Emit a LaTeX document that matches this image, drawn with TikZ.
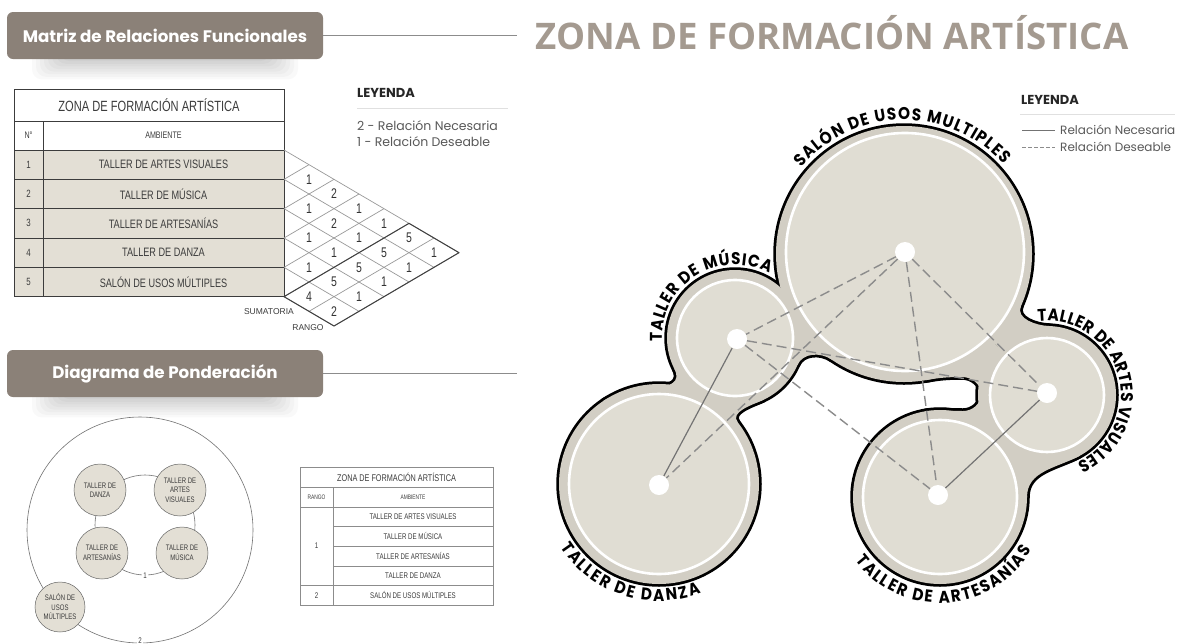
\documentclass[tikz,border=0pt]{standalone}
\usepackage{fontspec}
\setmainfont{Poppins}
\newfontfamily\titlefont{Open Sans}
\newfontfamily\arcfont{Poppins}[FakeStretch=0.9]
\newfontfamily\cadfont{Liberation Sans}[FakeStretch=0.75]
\newfontfamily\cadwide{Liberation Sans}
\usetikzlibrary{decorations.text}

\definecolor{taupe}{RGB}{139,129,120}
\definecolor{titlegray}{RGB}{164,154,144}
\definecolor{rowbeige}{RGB}{227,223,213}
\definecolor{blobdark}{RGB}{210,206,196}
\definecolor{blobinner}{RGB}{224,221,211}
\definecolor{cadgray}{RGB}{60,60,60}

\newcommand{\arclabelfont}{\arcfont\bfseries\fontsize{17}{17}\selectfont}

\tikzset{
  header/.style={rectangle,rounded corners=6pt,fill=taupe,text=white,minimum width=316pt,minimum height=47pt,font=\bfseries\fontsize{16.7}{19}\selectfont},
  rule/.style={draw=black!45,line width=0.8pt},
  cell/.style={font=\cadfont\fontsize{12.2}{14}\selectfont,text=cadgray,inner sep=0pt},
  smallcell/.style={font=\cadfont\fontsize{8.2}{10}\selectfont,text=cadgray,inner sep=0pt},
  grid/.style={draw=black!40,line width=0.7pt},
  gridbold/.style={draw=black!75,line width=1pt,line join=round},
  cellnum/.style={font=\cadfont\fontsize{14}{14}\selectfont,text=black!80,inner sep=0pt},
  legendtxt/.style={font=\fontsize{12.5}{14}\selectfont,text=black!65,anchor=west,inner sep=0pt},
  legendhead/.style={font=\bfseries\fontsize{13}{14}\selectfont,text=black!85,anchor=west,inner sep=0pt},
  pond/.style={circle,draw=black!60,line width=0.5pt,fill=rowbeige,minimum size=52pt,inner sep=0pt,align=center,font=\cadfont\fontsize{8}{9.5}\selectfont,text=cadgray},
  dot/.style={circle,fill=white,minimum size=20pt,inner sep=0pt},
  necesaria/.style={draw=black!55,line width=1.2pt},
  deseable/.style={draw=black!45,line width=1.4pt,dash pattern=on 10pt off 5pt},
  ring/.style={fill=blobinner,draw=white,line width=2.6pt},
  arclabel/.style={font=\arclabelfont,decorate,decoration={text along path,text={|\arclabelfont|#1},text align=fit to path}}
}

\newcommand{\blobshapes}[1]{%
  \path[#1] (cS) circle[radius=128pt];
  \path[#1] (cM) circle[radius=68pt];
  \path[#1] (cV) circle[radius=69pt];
  \path[#1] (cA) circle[radius=87pt];
  \path[#1] (cD) circle[radius=100pt];
  % cuello danza - musica
  \path[#1] (cD) -- ([shift={(124:100)}]cD) to[out=34,in=297] ([shift={(207:68)}]cM) -- (cM)
    -- ([shift={(295:68)}]cM) to[out=205,in=128] ([shift={(38:100)}]cD) -- cycle;
  % cuello musica - salon
  \path[#1] (cM) -- ([shift={(-23.5:68)}]cM) to[out=66.5,in=145.6] ([shift={(235.6:128)}]cS) -- (cS) -- cycle;
  % cuello salon - artes visuales
  \path[#1] (cS) -- ([shift={(-24:128)}]cS) to[out=246,in=178] ([shift={(88:69)}]cV) -- (cV) -- cycle;
  % cuello artes visuales - artesanias
  \path[#1] (cV) -- ([shift={(298:69)}]cV) to[out=208,in=90] ([shift={(0:87)}]cA) -- (cA) -- cycle;
  % union central con entrante
  \path[#1] (cS) -- ([shift={(-80:128)}]cS) to[out=10,in=180] (962,-377) to[out=0,in=90] (981,-394)
    to[out=-90,in=0] (963,-411) to[out=180,in=5] ([shift={(100:87)}]cA) -- (cA) -- (cV) -- cycle;
}

\begin{document}
\begin{tikzpicture}[x=1pt,y=1pt]
\useasboundingbox (0,0) rectangle (1180,-643);
\fill[white] (0,0) rectangle (1180,-643);

% ---------- matriz de relaciones ----------
\foreach \k in {1,...,10}
  \fill[black,opacity=0.022,rounded corners=10pt] ({28+4*\k},-48) rectangle ({302-4*\k},{-82+2.6*\k});
\node[header] (hmatriz) at (165,-35.5) {Matriz de Relaciones Funcionales};
\coordinate (finA) at (517,-35.5);
\draw[rule] (hmatriz.east) -- (finA);

\fill[rowbeige] (14,-150) rectangle (284,-296.667);
\draw[cadgray,line width=0.9pt] (14,-89) rectangle (284,-296.667);
\draw[cadgray,line width=0.8pt] (14,-121) -- (284,-121) (14,-150) -- (284,-150) (43,-121) -- (43,-296.667);
\foreach \k in {1,...,4}
  \draw[cadgray,line width=0.8pt] (14,{-150-29.333*\k}) -- (284,{-150-29.333*\k});
\node[cell,font=\cadfont\fontsize{14.8}{16}\selectfont] (tzona) at (149,-105) {ZONA DE FORMACIÓN ARTÍSTICA};
\node[cell,font=\cadfont\fontsize{9.5}{11}\selectfont] (tnum) at (28.5,-135.5) {N°};
\node[cell,font=\cadfont\fontsize{9.5}{11}\selectfont] (tamb) at (163.5,-135.5) {AMBIENTE};
\foreach \n/\amb in {1/TALLER DE ARTES VISUALES,2/TALLER DE MÚSICA,3/TALLER DE ARTESANÍAS,4/TALLER DE DANZA,5/SALÓN DE USOS MÚLTIPLES}{
  \node[cell,font=\cadfont\fontsize{10.5}{12}\selectfont] (num\n) at (28.5,{-135.333-29.333*\n}) {\n};
  \node[cell] (amb\n) at (163.5,{-135.333-29.333*\n}) {\amb};
}

% rombos
\foreach \k in {0,...,5}
  \draw[grid] (284,{-150-29.333*\k}) -- ++({25*(7-\k)},{-14.667*(7-\k)});
\foreach \k in {1,...,5}
  \draw[grid] (284,{-150-29.333*\k}) -- ++({25*\k},{14.667*\k});
\foreach \k in {6,7}
  \draw[grid] ({284+25*(\k-5)},{-296.667-14.667*(\k-5)}) -- ({284+25*\k},{-150-14.667*\k});
\draw[gridbold] (284,-296.667) -- (334,-326) -- (459,-252.667) -- (409,-223.333) -- cycle;
\foreach \i/\j/\v in {1/2/1,1/3/2,1/4/1,1/5/1,2/3/1,2/4/2,2/5/1,3/4/1,3/5/1,4/5/1,
                      1/6/5,2/6/5,3/6/5,4/6/5,5/6/4,1/7/1,2/7/1,3/7/1,4/7/1,5/7/2}
  \node[cellnum] (m\i\j) at ({284+25*(\j-\i)},{-150-14.667*(\i+\j-1)}) {\v};
\node[smallcell,font=\cadwide\fontsize{8.5}{10}\selectfont,anchor=east] (lsuma) at (294,-312) {SUMATORIA};
\node[smallcell,font=\cadwide\fontsize{8.5}{10}\selectfont] (lrango) at (308,-328) {RANGO};

% leyenda izquierda
\node[legendhead] (leyA) at (357,-93) {LEYENDA};
\draw[black!12,line width=0.8pt] (357,-108) -- (508,-108);
\node[legendtxt] (ley2) at (357,-126) {2 - Relación Necesaria};
\node[legendtxt] (ley1) at (357,-142) {1 - Relación Deseable};

% ---------- diagrama de ponderacion ----------
\foreach \k in {1,...,10}
  \fill[black,opacity=0.022,rounded corners=10pt] ({28+4*\k},-386) rectangle ({302-4*\k},{-420+2.6*\k});
\node[header] (hpond) at (165,-373.5) {Diagrama de Ponderación};
\coordinate (finB) at (517,-373.5);
\draw[rule] (hpond.east) -- (finB);

\draw[black!55,line width=0.6pt] (140,-530) circle[radius=113pt];
\draw[black!55,line width=0.6pt] (145,-525) circle[radius=50pt];
\node[pond] (pdanza) at (100,-490) {TALLER DE\\DANZA};
\node[pond] (pvisual) at (180,-490) {TALLER DE\\ARTES\\VISUALES};
\node[pond] (partesania) at (102,-553) {TALLER DE\\ARTESANÍAS};
\node[pond] (pmusica) at (182,-553) {TALLER DE\\MÚSICA};
\node[pond,minimum size=50pt] (psalon) at (60,-607) {SALÓN DE\\USOS\\MÚLTIPLES};
\node[smallcell,fill=white,inner sep=1.5pt] (luno) at (145,-576) {1};
\node[smallcell,fill=white,inner sep=1.5pt] (ldos) at (140,-641) {2};

% tabla de rangos
\draw[black!45,line width=0.6pt] (300,-467) rectangle (493,-605);
\draw[black!45,line width=0.6pt] (300,-487.5) -- (493,-487.5) (300,-507) -- (493,-507)
  (300,-585.4) -- (493,-585.4) (333,-487.5) -- (333,-605);
\foreach \r in {1,2,3}
  \draw[black!45,line width=0.6pt] (333,{-507-19.6*\r}) -- (493,{-507-19.6*\r});
\node[smallcell,font=\cadfont\fontsize{9.7}{11}\selectfont] (rzona) at (396.5,-477.5) {ZONA DE FORMACIÓN ARTÍSTICA};
\node[smallcell,font=\cadfont\fontsize{6.5}{8}\selectfont] (rrango) at (316.5,-497.5) {RANGO};
\node[smallcell,font=\cadfont\fontsize{6.5}{8}\selectfont] (ramb) at (413,-497.5) {AMBIENTE};
\node[smallcell] (runo) at (316.5,-546) {1};
\node[smallcell] (rdos) at (316.5,-595.2) {2};
\foreach \n/\amb in {1/TALLER DE ARTES VISUALES,2/TALLER DE MÚSICA,3/TALLER DE ARTESANÍAS,4/TALLER DE DANZA,5/SALÓN DE USOS MÚLTIPLES}
  \node[smallcell] (ramb\n) at (413,{-497.2-19.6*\n}) {\amb};

% ---------- zona de formacion artistica ----------
\node[font=\titlefont\bfseries\fontsize{36.6}{40}\selectfont,text=titlegray,anchor=base,inner sep=0pt] (titulo) at (832,-49) {ZONA DE FORMACIÓN ARTÍSTICA};

\node[legendhead] (leyB) at (1021,-100) {LEYENDA};
\draw[black!12,line width=0.8pt] (1020,-114) -- (1175,-114);
\coordinate (nec0) at (1022,-130);
\coordinate (nec1) at (1055,-130);
\coordinate (des0) at (1022,-147);
\coordinate (des1) at (1055,-147);
\draw[necesaria,line width=0.9pt] (nec0) -- (nec1);
\draw[deseable,line width=0.9pt,dash pattern=on 4pt off 2pt] (des0) -- (des1);
\node[legendtxt,font=\fontsize{12}{14}\selectfont] (lnec) at (1060,-130) {Relación Necesaria};
\node[legendtxt,font=\fontsize{12}{14}\selectfont] (ldes) at (1060,-147) {Relación Deseable};

% burbujas
\coordinate (cS) at (904,-254);
\coordinate (cM) at (735,-338);
\coordinate (cV) at (1047,-395);
\coordinate (cA) at (940,-497);
\coordinate (cD) at (659,-484);
\blobshapes{draw=black,line width=5.5pt,line join=round}
\blobshapes{fill=blobdark}
\path[ring] (905,-252) circle[radius=119pt];
\path[ring] (cM) circle[radius=58pt];
\path[ring] (cV) circle[radius=57pt];
\path[ring] (cA) circle[radius=77pt];
\path[ring] (cD) circle[radius=90pt];

\node[dot] (dS) at (905,-252) {};
\node[dot] (dM) at (737,-339) {};
\node[dot] (dV) at (1047,-393) {};
\node[dot] (dA) at (938,-495) {};
\node[dot] (dD) at (659,-485) {};
\draw[necesaria] (dM) -- (dD);
\draw[necesaria] (dA) -- (dV);
\draw[deseable] (dS) -- (dM);
\draw[deseable] (dS) -- (dD);
\draw[deseable] (dS) -- (dA);
\draw[deseable] (dS) -- (dV);
\draw[deseable] (dM) -- (dA);
\draw[deseable] (dM) -- (dV);

% textos curvos
\path[arclabel={SALÓN DE USOS MULTIPLES}] ([shift={(140:134)}]cS) arc[start angle=140,end angle=42,radius=134pt];
\path[arclabel={TALLER DE MÚSICA}] ([shift={(183:73)}]cM) arc[start angle=183,end angle=62,radius=73pt];
\path[arclabel={TALLER DE ARTES VISUALES}] ([shift={(97:74)}]cV) arc[start angle=97,end angle=-66,radius=74pt];
\path[arclabel={TALLER DE DANZA}] ([shift={(213:117)}]cD) arc[start angle=213,end angle=291,radius=117pt];
\path[arclabel={TALLER DE ARTESANÍAS}] ([shift={(217:106)}]cA) arc[start angle=217,end angle=330,radius=106pt];
\end{tikzpicture}
\end{document}
